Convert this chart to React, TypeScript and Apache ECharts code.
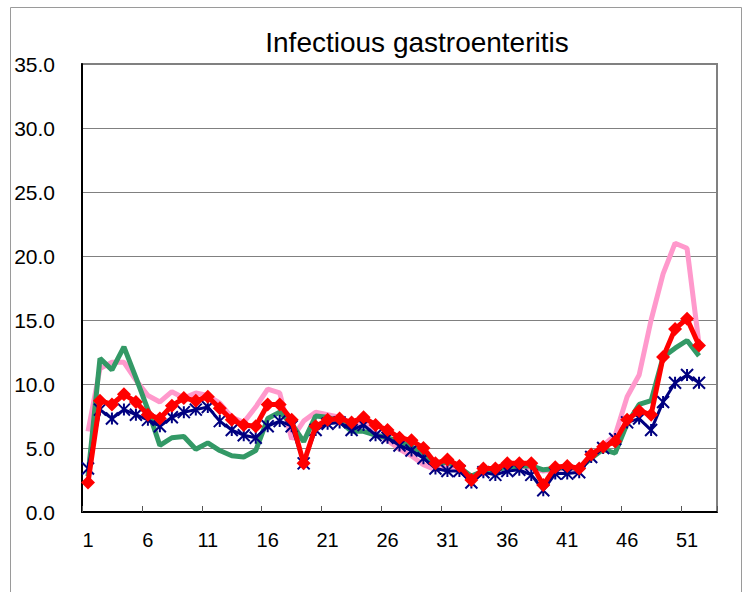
import React, { useEffect, useRef } from "react";
import * as echarts from "echarts";

const weeks: string[] = Array.from({ length: 53 }, (_, i) => String(i + 1));

const pinkSeries: number[] = [6.3, 11.2, 11.7, 11.7, 10.3, 9.1, 8.6, 9.4, 8.9, 9.3, 9.1, 8.5, 7.4, 7.0, 8.2, 9.6, 9.3, 5.7, 7.1, 7.8, 7.6, 7.4, 6.9, 7.0, 6.2, 5.6, 4.9, 4.4, 3.7, 3.3, 3.7, 3.2, 2.7, 3.0, 3.2, 3.6, 3.6, 3.4, 3.2, 3.3, 3.4, 3.3, 4.4, 5.2, 6.0, 9.0, 10.7, 15.0, 18.6, 21.0, 20.6, 13.1];
const greenSeries: number[] = [2.8, 12.0, 11.1, 12.9, 10.5, 8.0, 5.2, 5.8, 5.9, 4.9, 5.4, 4.8, 4.4, 4.3, 4.8, 7.3, 7.8, 6.9, 5.5, 7.5, 7.4, 7.1, 6.3, 6.3, 6.0, 5.8, 5.5, 5.1, 4.5, 3.7, 3.9, 3.5, 2.8, 3.2, 3.3, 3.5, 3.6, 3.6, 3.3, 3.4, 3.5, 3.4, 4.2, 4.9, 4.6, 6.9, 8.4, 8.7, 12.1, 12.8, 13.4, 12.2];
const navySeries: number[] = [3.4, 8.0, 7.3, 8.0, 7.6, 7.2, 6.7, 7.4, 7.8, 8.0, 8.2, 7.1, 6.4, 6.0, 5.8, 6.7, 7.1, 6.7, 3.8, 6.4, 6.9, 7.0, 6.4, 6.8, 6.0, 5.8, 5.2, 4.8, 4.2, 3.4, 3.2, 3.2, 2.3, 3.1, 2.9, 3.2, 3.3, 2.9, 1.7, 3.0, 3.0, 3.1, 4.3, 5.0, 5.7, 7.0, 7.3, 6.4, 8.6, 10.1, 10.7, 10.1];
const redSeries: number[] = [2.3, 8.7, 8.4, 9.2, 8.6, 7.6, 7.3, 8.3, 8.9, 8.7, 9.0, 8.1, 7.2, 6.8, 6.7, 8.4, 8.4, 7.2, 3.8, 6.7, 7.2, 7.3, 7.0, 7.4, 6.8, 6.4, 5.8, 5.6, 5.0, 3.8, 4.1, 3.6, 2.5, 3.4, 3.4, 3.8, 3.8, 3.8, 2.1, 3.5, 3.6, 3.4, 4.5, 5.1, 5.5, 7.2, 7.9, 7.6, 12.1, 14.3, 15.1, 13.0];

const titleText = "Infectious gastroenteritis";
const FONT = "'Liberation Sans', Arial, sans-serif";

export default function App() {
  const ref = useRef<HTMLDivElement>(null);
  useEffect(() => {
    if (!ref.current) return;
    const chart = echarts.init(ref.current, undefined, { renderer: "svg" });
    const starPath = "path://M6,0 L6,12 M0,0 L12,12 M0,12 L12,0";
    chart.setOption({
      animation: false,
      backgroundColor: "#fff",
      textStyle: { fontFamily: FONT },
      graphic: [
        {
          type: "rect",
          shape: { x: 10.5, y: 7.5, width: 731, height: 640 },
          style: { fill: "none", stroke: "#9a9a9a", lineWidth: 1 },
          silent: true,
          z: -10,
        },
        {
          type: "text",
          x: 417,
          y: 42,
          style: {
            text: titleText,
            fontSize: 28,
            fontFamily: FONT,
            fill: "#000",
            textAlign: "center",
            textVerticalAlign: "middle",
          },
        },
      ],
      grid: {
        left: 82,
        right: 34,
        top: 64,
        bottom: 80,
        show: true,
        borderColor: "#808080",
        borderWidth: 2,
        backgroundColor: "#fff",
      },
      xAxis: {
        type: "category",
        data: weeks,
        boundaryGap: true,
        axisLine: { show: true, lineStyle: { color: "#000", width: 2 } },
        axisTick: { show: true, inside: true, interval: 4, length: 6, lineStyle: { color: "#555", width: 1 } },
        axisLabel: { interval: 4, fontSize: 20, color: "#000", margin: 18, fontFamily: FONT },
        splitLine: { show: false },
      },
      yAxis: {
        type: "value",
        min: 0,
        max: 35,
        interval: 5,
        axisLine: { show: true, lineStyle: { color: "#000", width: 2 } },
        axisTick: { show: false },
        axisLabel: {
          fontSize: 21,
          color: "#000",
          margin: 27,
          fontFamily: FONT,
          formatter: (v: number) => v.toFixed(1),
        },
        splitLine: { show: true, lineStyle: { color: "#808080", width: 1 } },
      },
      series: [
        {
          type: "line",
          name: "pink",
          data: pinkSeries,
          showSymbol: false,
          symbol: "none",
          lineStyle: { color: "#FF99CC", width: 5 },
          itemStyle: { color: "#FF99CC" },
          z: 2,
        },
        {
          type: "line",
          name: "green",
          data: greenSeries,
          showSymbol: false,
          symbol: "none",
          lineStyle: { color: "#339966", width: 5 },
          itemStyle: { color: "#339966" },
          z: 3,
        },
        {
          type: "line",
          name: "navy",
          data: navySeries,
          showSymbol: true,
          showAllSymbol: true,
          symbol: starPath,
          symbolSize: 12,
          lineStyle: { color: "#000080", width: 3 },
          itemStyle: { color: "#000080", borderColor: "#000080", borderWidth: 2 },
          z: 4,
        },
        {
          type: "line",
          name: "red",
          data: redSeries,
          showSymbol: true,
          showAllSymbol: true,
          symbol: "diamond",
          symbolSize: 14,
          lineStyle: { color: "#FF0000", width: 5 },
          itemStyle: { color: "#FF0000", borderColor: "#FF0000", borderWidth: 0 },
          z: 5,
        },
      ],
    });
    return () => chart.dispose();
  }, []);
  return (
    <div
      ref={ref}
      style={{ position: "fixed", left: 0, top: 0, width: 751, height: 592, background: "#fff" }}
    />
  );
}
